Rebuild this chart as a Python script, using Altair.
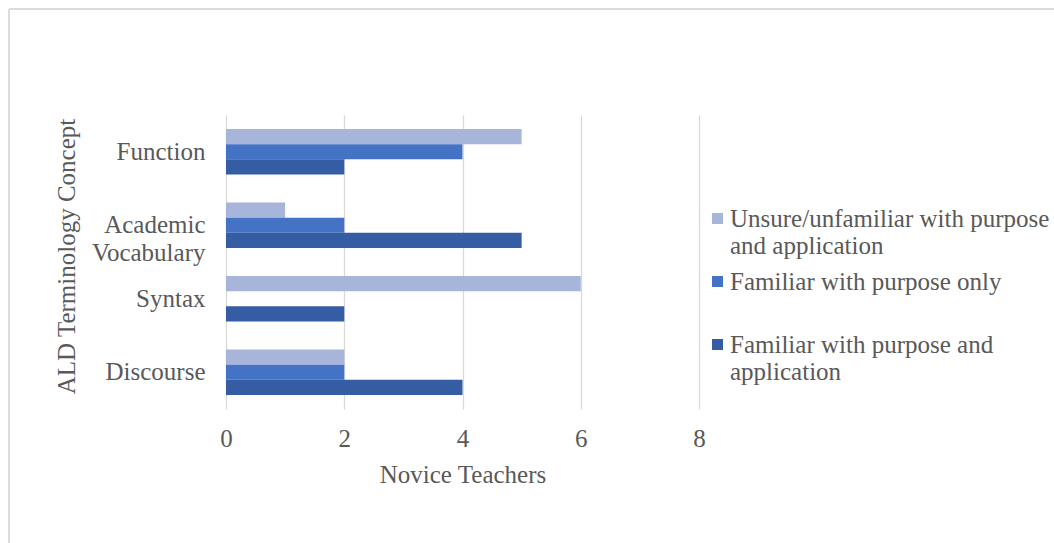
import altair as alt
import pandas as pd

# ALD terminology concepts (top to bottom) and response categories
concepts = ["Function", "Academic Vocabulary", "Syntax", "Discourse"]
series = [
    "Unsure/unfamiliar with purpose and application",
    "Familiar with purpose only",
    "Familiar with purpose and application",
]

# Number of novice teachers per concept, one list per response category
unsure = [5, 1, 6, 2]
purpose_only = [4, 2, 0, 2]
purpose_application = [2, 5, 2, 4]

colors = ["#A7B5DB", "#4472C4", "#345DA3"]

# Wrapped legend text; every entry gets two lines so the rows are evenly spaced
legend_lines = {
    series[0]: ["Unsure/unfamiliar with purpose", "and application"],
    series[1]: ["Familiar with purpose only", ""],
    series[2]: ["Familiar with purpose and", "application"],
}

rows = []
for name, values in zip(series, [unsure, purpose_only, purpose_application]):
    for concept, v in zip(concepts, values):
        rows.append({"concept": concept, "series": name, "count": v})
df = pd.DataFrame(rows)


def lines_expr(mapping):
    expr = "datum.label"
    for key, lines in reversed(list(mapping.items())):
        arr = "[" + ", ".join("'" + s + "'" for s in lines) + "]"
        expr = f"datum.label === '{key}' ? {arr} : ({expr})"
    return expr


FONT = "Liberation Serif"
GREY = "#595959"
W, H = 473, 294
PAD_L, PAD_T = 226, 115

bars = alt.Chart(df).mark_bar().encode(
    y=alt.Y(
        "concept:N",
        sort=concepts,
        scale=alt.Scale(paddingInner=0.38, paddingOuter=0.19),
        axis=alt.Axis(
            title="ALD Terminology Concept",
            labelExpr="datum.label === 'Academic Vocabulary' ? ['Academic', 'Vocabulary'] : datum.label",
            labelLineHeight=28,
            ticks=False,
            domain=False,
            grid=False,
            labelPadding=21,
            titlePadding=12,
            titleY=141,
        ),
    ),
    yOffset=alt.YOffset("series:N", sort=series, scale=alt.Scale(paddingInner=0, paddingOuter=0)),
    x=alt.X(
        "count:Q",
        scale=alt.Scale(domain=[0, 8], nice=False),
        axis=alt.Axis(
            title="Novice Teachers",
            values=[0, 2, 4, 6, 8],
            grid=True,
            ticks=False,
            domain=False,
            labelFlush=False,
            labelPadding=17,
            titlePadding=11,
        ),
    ),
    color=alt.Color(
        "series:N",
        scale=alt.Scale(domain=series, range=colors),
        legend=alt.Legend(
            title=None,
            orient="none",
            legendX=479,
            legendY=91,
            symbolType="square",
            symbolSize=121,
            symbolStrokeWidth=0,
            labelExpr=lines_expr(legend_lines),
            labelFont=FONT,
            labelFontSize=25,
            labelColor=GREY,
            labelLimit=0,
            labelOffset=0,
            rowPadding=10,
            padding=0,
        ),
    ),
)

# Light frame along the top and left edges of the chart area
frame = pd.DataFrame({"k": [0]})
top_edge = alt.Chart(frame).mark_rule(color="#dcdcdc", strokeWidth=2).encode(
    x=alt.value(9 - PAD_L), x2=alt.value(1054 - PAD_L), y=alt.value(9 - PAD_T)
)
left_edge = alt.Chart(frame).mark_rule(color="#dcdcdc", strokeWidth=2).encode(
    x=alt.value(9 - PAD_L), y=alt.value(9 - PAD_T), y2=alt.value(543 - PAD_T)
)

chart = (
    alt.layer(top_edge, left_edge, bars)
    .properties(
        width=W,
        height=H,
        padding={"left": PAD_L, "top": PAD_T, "right": 1054 - PAD_L - W, "bottom": 543 - PAD_T - H},
        autosize=alt.AutoSizeParams(type="none"),
        background="white",
    )
    .configure_view(stroke=None)
    .configure_axis(
        labelFont=FONT,
        titleFont=FONT,
        labelFontSize=25,
        titleFontSize=25,
        labelColor=GREY,
        titleColor=GREY,
        titleFontWeight="normal",
        gridColor="#d9d9d9",
        gridWidth=1.3,
    )
)

chart.save("out.html", embed_options={"renderer": "svg", "actions": False})
